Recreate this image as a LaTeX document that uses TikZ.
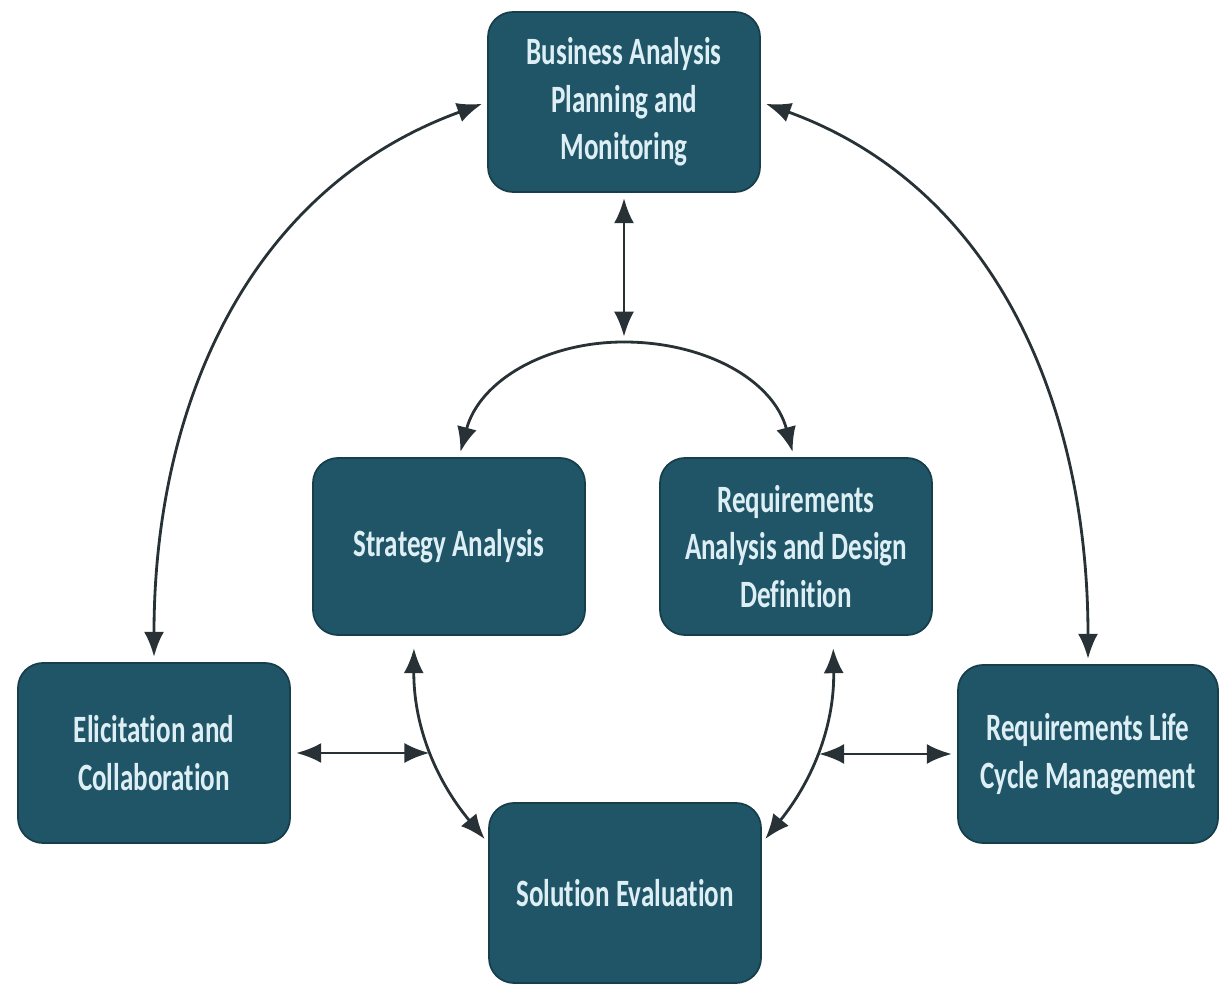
\documentclass[tikz,border=0pt]{standalone}
\usepackage{fontspec}
\usepackage{xcolor}
\usepackage{tikz}
\usetikzlibrary{arrows.meta}
\usetikzlibrary{calc}

\newfontfamily\stagefont{Carlito}[FakeStretch=0.7,Ligatures=NoCommon]
\definecolor{stageteal}{HTML}{1F5566}
\definecolor{stageline}{HTML}{163F4B}
\definecolor{stagetext}{HTML}{DDEFF5}
\definecolor{linkgray}{HTML}{283236}

\tikzset{
	stage/.style={draw=stageline,line width=1pt,fill=stageteal,rounded corners=0.5cm,
		minimum width=5.44cm,minimum height=3.6cm,text=stagetext,align=center,inner sep=2pt,
		font=\stagefont\bfseries\fontsize{22}{27}\selectfont},
	link/.style={draw=linkgray,line width=1.6pt,shorten <=3pt,shorten >=3pt,
		{Latex[length=5mm,width=4mm]}-{Latex[length=5mm,width=4mm]}},
	onelink/.style={draw=linkgray,line width=1.6pt,shorten >=3pt,
		-{Latex[length=5mm,width=4mm]}}
}

\begin{document}
\begin{tikzpicture}
		\useasboundingbox (0,0) rectangle (24.4,19.66);
		\node[stage] (bapm) at (12.48,17.62) {Business Analysis\\Planning and\\Monitoring};
		\node[stage,minimum height=3.54cm] (sa) at (8.98,8.73) {Strategy Analysis};
		\node[stage,minimum height=3.54cm] (radd) at (15.92,8.73) {Requirements\\Analysis and Design\\Definition};
		\node[stage] (ec) at (3.08,4.6) {Elicitation and\\Collaboration};
		\node[stage,minimum width=5.2cm,minimum height=3.56cm] (rlcm) at (21.76,4.58) {Requirements Life\\Cycle Management};
		\node[stage] (se) at (12.5,1.8) {Solution Evaluation};
		% outer arcs
		\draw[link] (bapm.west) to[out=200,in=90] (ec.north);
		\draw[link] (bapm.east) to[out=-20,in=90] (rlcm.north);
		% down to the split
		\coordinate (split) at (12.48,12.82);
		\draw[link] (bapm.south) -- (split);
		\draw[onelink] (split) to[out=180,in=75] ([xshift=0.2cm]sa.north);
		\draw[onelink] (split) to[out=0,in=105] ([xshift=-0.04cm]radd.north);
		% lower curves
		\draw[link,shorten <=7pt] ([xshift=-0.7cm]sa.south) to[bend right=20] coordinate[pos=0.56] (lhit) (se.160);
		\draw[link,shorten <=7pt] ([xshift=0.74cm]radd.south) to[bend left=20] coordinate[pos=0.56] (rhit) (se.20);
		\draw[link] (ec.east) -- (ec.east -| lhit);
		\draw[link] (rlcm.west -| rhit) -- (rlcm.west);
	\end{tikzpicture}
\end{document}
